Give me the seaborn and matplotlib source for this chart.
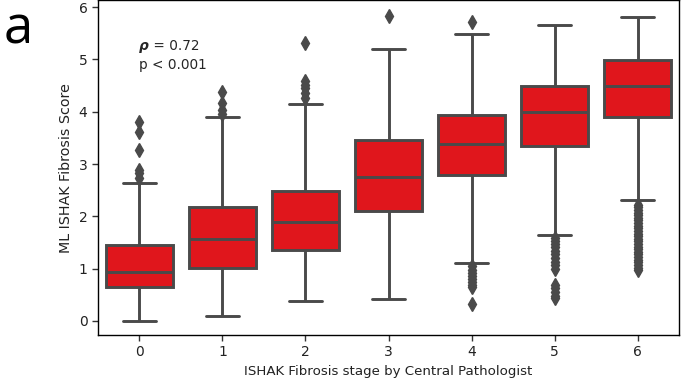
import numpy as np
import pandas as pd
import seaborn as sns
import matplotlib.pyplot as plt

# Box statistics
stages = [0, 1, 2, 3, 4, 5, 6]
whisker_low = [0.00, 0.09, 0.38, 0.42, 1.10, 1.72, 2.31]
q1 = [0.64, 1.02, 1.35, 2.10, 2.79, 3.35, 3.89]
median = [0.94, 1.57, 1.90, 2.76, 3.38, 4.00, 4.49]
q3 = [1.45, 2.18, 2.48, 3.46, 3.93, 4.49, 4.99]
whisker_high = [2.64, 3.89, 4.14, 5.20, 5.49, 5.65, 5.81]
outliers = [
    [3.81, 3.62, 3.27, 2.89, 2.82, 2.74],
    [4.37, 4.16, 4.03, 3.96],
    [5.32, 4.58, 4.51, 4.45, 4.35, 4.26],
    [5.83],
    [5.72, 1.04, 0.98, 0.92, 0.86, 0.80, 0.74, 0.68, 0.64, 0.32],
    [1.64, 1.58, 1.52, 1.47, 1.42, 1.34, 1.27, 1.20, 1.13, 1.06, 1.00,
     0.68, 0.62, 0.55, 0.48, 0.43],
    [2.22, 2.17, 2.12, 2.07, 2.02, 1.97, 1.92, 1.87, 1.82, 1.77, 1.72,
     1.67, 1.62, 1.57, 1.52, 1.47, 1.42, 1.37, 1.32, 1.27, 1.22, 1.17,
     1.12, 1.07, 1.02, 0.97],
]
x_label = "ISHAK Fibrosis stage by Central Pathologist"
y_label = "ML ISHAK Fibrosis Score"
rho_text = "= 0.72"
p_text = "p < 0.001"

# Build a table whose quartiles/whiskers reproduce the read statistics
N = 100
rows = []
for s, wl, a, m, b, wh, outs in zip(stages, whisker_low, q1, median, q3,
                                    whisker_high, outliers):
    vals = [wl] + [a] * N + [m] * N + [b] * N + [wh] + list(outs)
    rows += [(s, v) for v in vals]
df = pd.DataFrame(rows, columns=["stage", "score"])

sns.set_style("white")
plt.rcParams["font.family"] = ["DejaVu Sans"]

fig = plt.figure(figsize=(6.84, 3.85), dpi=100)
ax = fig.add_axes([0.143, 0.130, 0.850, 0.869])

line_c = "#4a4a4a"
sns.boxplot(data=df, x="stage", y="score", color="#E0161C", saturation=1,
            linecolor=line_c, linewidth=2.1, width=0.8, ax=ax,
            flierprops=dict(marker="d", markerfacecolor=line_c,
                            markeredgecolor=line_c, markersize=7))

ax.set_xlim(-0.5, 6.5)
ax.set_ylim(-0.27, 6.13)
ax.set_yticks([0, 1, 2, 3, 4, 5, 6])
ax.set_xlabel(x_label, fontsize=9.6, color="#222222")
ax.set_ylabel(y_label, fontsize=10.3, color="#222222")
ax.tick_params(axis="both", which="both", direction="out", length=4,
               width=1, color="#333333", labelsize=10, labelcolor="#222222",
               left=True, bottom=True)
for sp in ax.spines.values():
    sp.set_color("black")
    sp.set_linewidth(1.0)

t1 = ax.text(0.071, 0.864, "ρ", transform=ax.transAxes, fontsize=9.8,
             fontweight="bold", fontstyle="italic", va="center", ha="left")
ax.annotate(" " + rho_text, xy=(1, 0.5), xycoords=t1, va="center", ha="left",
            fontsize=9.8)
ax.text(0.071, 0.807, p_text, transform=ax.transAxes, fontsize=9.8,
        va="center", ha="left")

fig.text(0.006, 0.922, "a", fontsize=38, family="Open Sans", va="center",
         ha="left", color="black")

fig.savefig("out.png", dpi=100)
